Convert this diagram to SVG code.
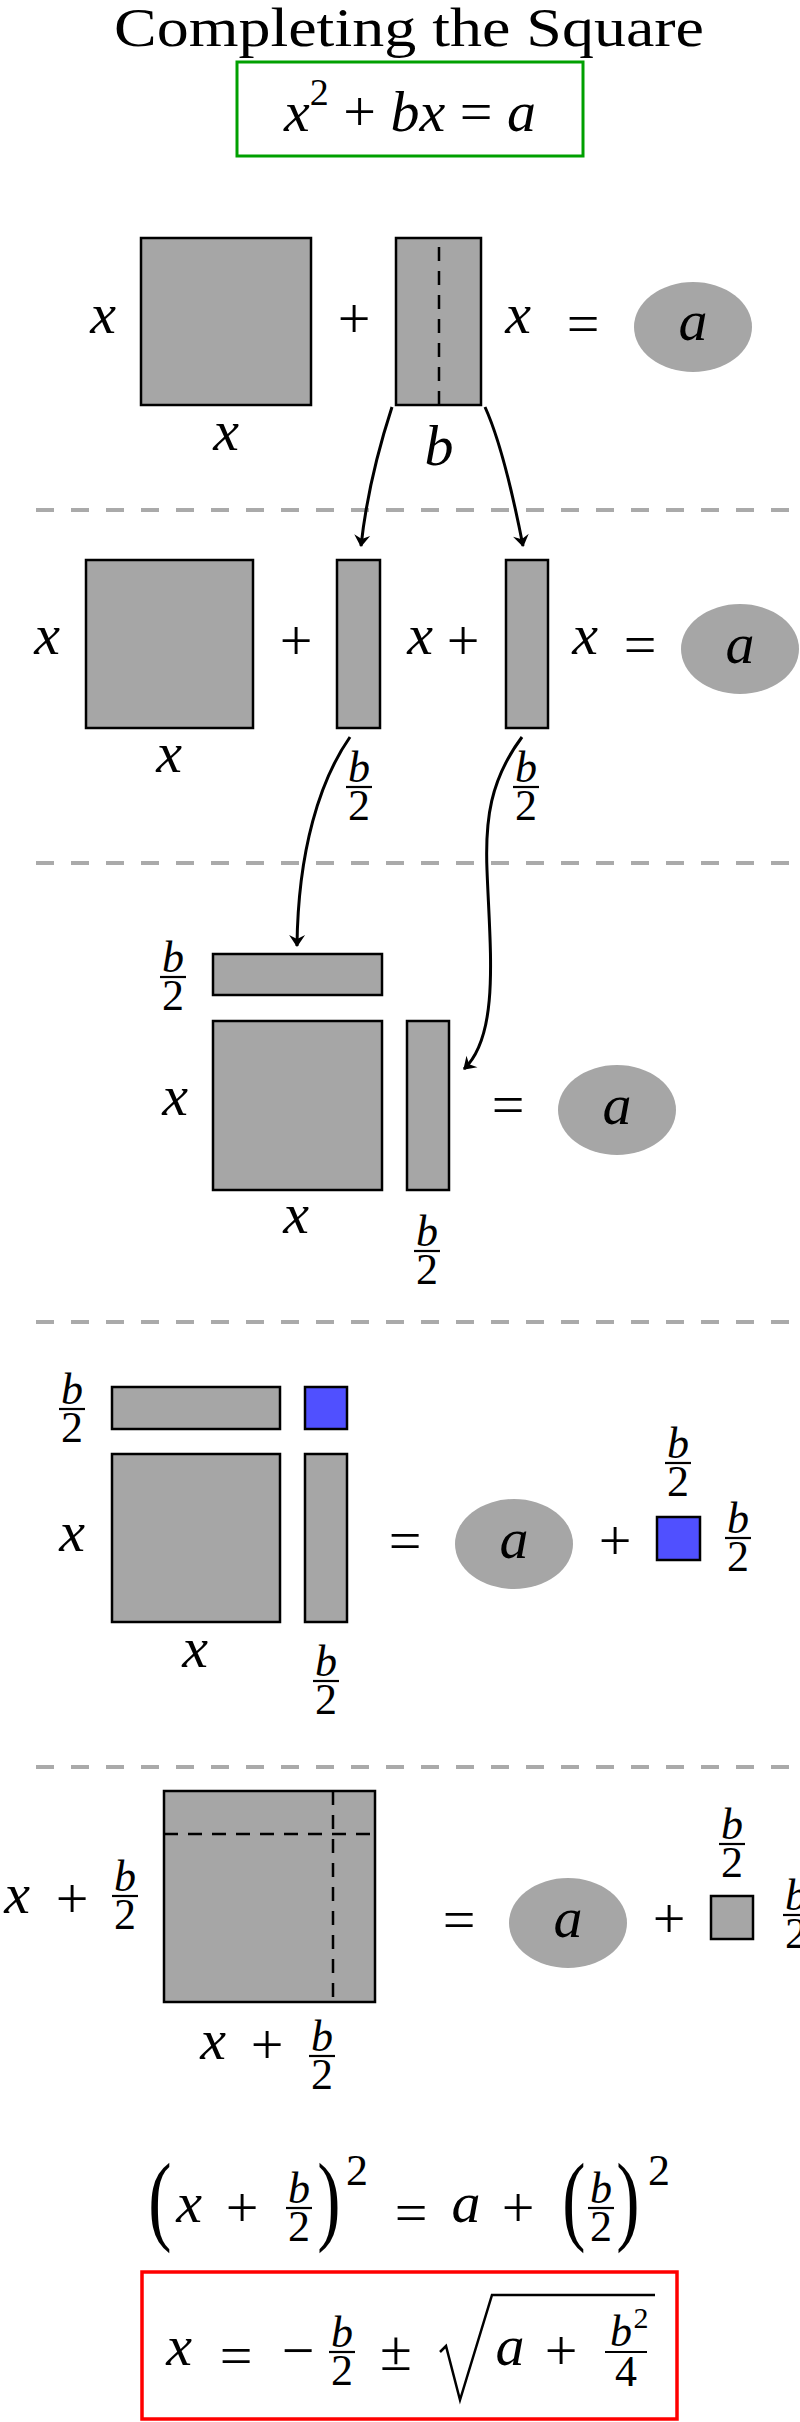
<svg xmlns="http://www.w3.org/2000/svg" width="800" height="2422" viewBox="0 0 800 2422">
<style>
text{font-family:"Liberation Serif","DejaVu Serif",serif;text-anchor:middle;fill:#000}
.m{font-size:58px}
.i{font-style:italic}
.f{font-size:44px}
.t{font-size:54px}
.p{font-size:100px}
.sup{font-size:30px}
.sh{fill:#a6a6a6;stroke:#000;stroke-width:2.5}
.bl{fill:#5050ff;stroke:#000;stroke-width:2.5}
.el{fill:#a6a6a6}
.sep{stroke:#aaa;stroke-width:4;stroke-dasharray:18 17}
.fb{stroke:#000;stroke-width:2.2}
.dl{stroke:#000;stroke-width:2.5;stroke-dasharray:14 10;fill:none}
.ar{fill:none;stroke:#000;stroke-width:3;marker-end:url(#ah)}
</style>
<defs>
<marker id="ah" viewBox="-12 -9 14 18" refX="0" refY="0" markerWidth="14" markerHeight="18" orient="auto" markerUnits="userSpaceOnUse">
<path d="M1,0 L-11,-8 L-7,0 L-11,8 Z" fill="#000"/>
</marker>
<g id="fr"><text class="f i" x="0" y="-5">b</text><line class="fb" x1="-13" y1="0" x2="13" y2="0"/><text class="f" x="0" y="33">2</text></g>
</defs>
<rect width="800" height="2422" fill="#fff"/>

<g id="title"><text class="t" x="409" y="46" textLength="590" lengthAdjust="spacingAndGlyphs">Completing the Square</text></g>
<g id="eq0">
<rect x="237" y="62" width="346" height="94" fill="none" stroke="#00a000" stroke-width="3"/>
<text class="m" x="410" y="131"><tspan font-style="italic">x</tspan><tspan style="font-size:38px" dy="-26">2</tspan><tspan dy="26"> + </tspan><tspan font-style="italic">bx</tspan> = <tspan font-style="italic">a</tspan></text>
</g>

<g id="separators">
<line class="sep" x1="36" y1="510" x2="800" y2="510"/>
<line class="sep" x1="36" y1="863" x2="800" y2="863"/>
<line class="sep" x1="36" y1="1322" x2="800" y2="1322"/>
<line class="sep" x1="36" y1="1767" x2="800" y2="1767"/>
</g>

<g id="row1">
<rect class="sh" x="141" y="238" width="170" height="167"/>
<rect class="sh" x="396" y="238" width="85" height="167"/>
<line class="dl" x1="439" y1="247" x2="439" y2="405"/>
<text class="m i" x="103" y="333">x</text>
<text class="m" x="354" y="338">+</text>
<text class="m i" x="518" y="333">x</text>
<text class="m" x="583" y="343">=</text>
<ellipse class="el" cx="693" cy="327" rx="59" ry="45"/>
<text class="m i" x="693" y="340">a</text>
<text class="m i" x="226" y="450">x</text>
<text class="m i" x="439" y="465">b</text>
</g>

<g id="row2">
<rect class="sh" x="86" y="560" width="167" height="168"/>
<rect class="sh" x="337" y="560" width="43" height="168"/>
<rect class="sh" x="506" y="560" width="42" height="168"/>
<text class="m i" x="47" y="654">x</text>
<text class="m" x="296" y="660">+</text>
<text class="m i" x="420" y="654">x</text>
<text class="m" x="463" y="660">+</text>
<text class="m i" x="585" y="654">x</text>
<text class="m" x="640" y="664">=</text>
<ellipse class="el" cx="740" cy="649" rx="59" ry="45"/>
<text class="m i" x="740" y="663">a</text>
<text class="m i" x="169" y="772">x</text>
<use href="#fr" x="359" y="787"/>
<use href="#fr" x="526" y="787"/>
</g>

<g id="row3">
<rect class="sh" x="213" y="954" width="169" height="41"/>
<rect class="sh" x="213" y="1021" width="169" height="169"/>
<rect class="sh" x="407" y="1021" width="42" height="169"/>
<use href="#fr" x="173" y="977"/>
<text class="m i" x="175" y="1115">x</text>
<text class="m" x="508" y="1124">=</text>
<ellipse class="el" cx="617" cy="1110" rx="59" ry="45"/>
<text class="m i" x="617" y="1124">a</text>
<text class="m i" x="296" y="1233">x</text>
<use href="#fr" x="427" y="1251"/>
</g>

<g id="row4">
<rect class="sh" x="112" y="1387" width="168" height="42"/>
<rect class="bl" x="305" y="1387" width="42" height="42"/>
<rect class="sh" x="112" y="1454" width="168" height="168"/>
<rect class="sh" x="305" y="1454" width="42" height="168"/>
<use href="#fr" x="72" y="1409"/>
<text class="m i" x="72" y="1551">x</text>
<text class="m" x="405" y="1560">=</text>
<ellipse class="el" cx="514" cy="1544" rx="59" ry="45"/>
<text class="m i" x="514" y="1558">a</text>
<text class="m" x="615" y="1560">+</text>
<rect class="bl" x="657" y="1517" width="43" height="43"/>
<use href="#fr" x="678" y="1463"/>
<use href="#fr" x="738" y="1538"/>
<text class="m i" x="195" y="1667">x</text>
<use href="#fr" x="326" y="1681"/>
</g>

<g id="row5">
<rect class="sh" x="164" y="1791" width="211" height="211"/>
<line class="dl" x1="164" y1="1834" x2="375" y2="1834"/>
<line class="dl" x1="333" y1="1791" x2="333" y2="2002"/>
<text class="m i" x="17" y="1913">x</text>
<text class="m" x="72" y="1918">+</text>
<use href="#fr" x="125" y="1896"/>
<text class="m" x="459" y="1939">=</text>
<ellipse class="el" cx="568" cy="1923" rx="59" ry="45"/>
<text class="m i" x="568" y="1937">a</text>
<text class="m" x="669" y="1938">+</text>
<rect class="sh" x="711" y="1896" width="42" height="43"/>
<use href="#fr" x="732" y="1844"/>
<use href="#fr" x="796" y="1915"/>
<text class="m i" x="213" y="2059">x</text>
<text class="m" x="267" y="2064">+</text>
<use href="#fr" x="322" y="2056"/>
</g>

<g id="eq1">
<text class="p" x="160" y="2232" transform="translate(160 2232) scale(0.7 1) translate(-160 -2232)">(</text>
<text class="m i" x="189" y="2222">x</text>
<text class="m" x="242" y="2227">+</text>
<use href="#fr" x="299" y="2208"/>
<text class="p" x="329" y="2232" transform="translate(329 2232) scale(0.7 1) translate(-329 -2232)">)</text>
<text class="f" x="357" y="2185">2</text>
<text class="m" x="411" y="2232">=</text>
<text class="m i" x="466" y="2222">a</text>
<text class="m" x="518" y="2227">+</text>
<text class="p" x="574" y="2232" transform="translate(574 2232) scale(0.7 1) translate(-574 -2232)">(</text>
<use href="#fr" x="601" y="2208"/>
<text class="p" x="628" y="2232" transform="translate(628 2232) scale(0.7 1) translate(-628 -2232)">)</text>
<text class="f" x="659" y="2185">2</text>
</g>

<g id="eq2">
<rect x="142" y="2272" width="535" height="147" fill="none" stroke="#ff0000" stroke-width="3.5"/>
<text class="m i" x="179" y="2365">x</text>
<text class="m" x="236" y="2375">=</text>
<text class="m" x="298" y="2370">−</text>
<use href="#fr" x="342" y="2352"/>
<text class="m" x="396" y="2370">±</text>
<path d="M440,2352 L446,2346 L460,2400 L492,2295 L655,2295" fill="none" stroke="#000" stroke-width="2.5"/>
<text class="m i" x="510" y="2365">a</text>
<text class="m" x="561" y="2370">+</text>
<text class="f i" x="621" y="2346">b</text>
<text class="sup" x="641" y="2328">2</text>
<line class="fb" x1="605" y1="2352" x2="647" y2="2352"/>
<text class="f" x="626" y="2386">4</text>
</g>

<g id="connectors">
<path class="ar" d="M392,407 C378,450 366,500 361,546"/>
<path class="ar" d="M485,407 C500,440 514,500 523,546"/>
<path class="ar" d="M350,737 C320,780 298,850 297,946"/>
<path class="ar" d="M522,737 C490,780 485,820 487,870 C490,950 500,1035 464,1069"/>
</g>
</svg>
